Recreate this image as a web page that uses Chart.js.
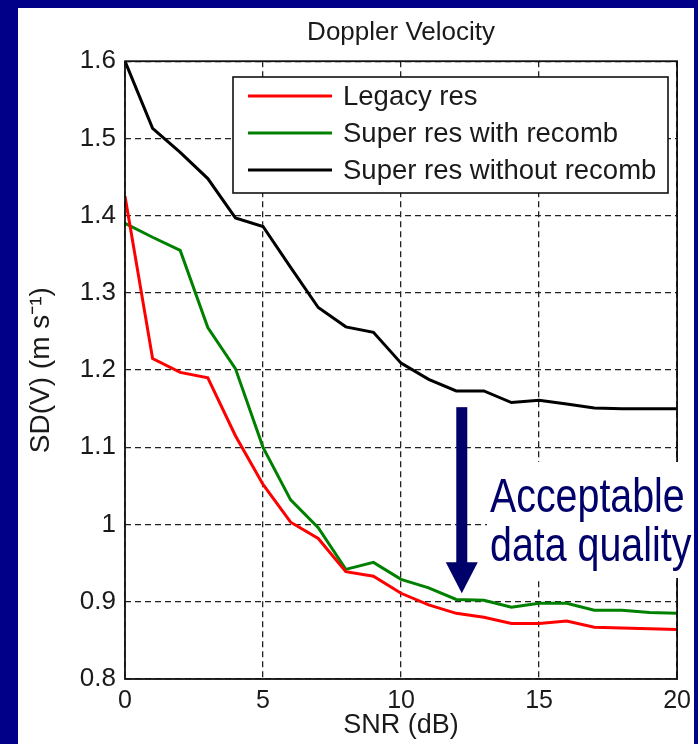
<!DOCTYPE html>
<html><head><meta charset="utf-8">
<script src="https://cdn.jsdelivr.net/npm/chart.js@4.4.0/dist/chart.umd.min.js"></script>
<style>html,body{margin:0;padding:0;background:#000088;overflow:hidden}#wrap{width:698px;height:744px;position:relative}</style>
</head><body><div id="wrap"><canvas id="c" width="698" height="744"></canvas></div>
<script>
// ---- data ----
const snr = [0,1,2,3,4,5,6,7,8,9,10,11,12,13,14,15,16,17,18,19,20];
const legacyRes = [1.425,1.215,1.197,1.19,1.115,1.052,1.003,0.982,0.939,0.933,0.911,0.896,0.885,0.880,0.872,0.872,0.875,0.867,0.866,0.865,0.864];
const superWithRecomb = [1.39,1.372,1.355,1.255,1.202,1.1,1.032,0.996,0.942,0.951,0.929,0.918,0.903,0.902,0.893,0.898,0.898,0.889,0.889,0.886,0.885];
const superWithoutRecomb = [1.6,1.513,1.482,1.448,1.397,1.386,1.333,1.281,1.256,1.249,1.209,1.188,1.173,1.173,1.158,1.161,1.156,1.151,1.15,1.15,1.15];
const seriesNames = ['Legacy res','Super res with recomb','Super res without recomb'];
const titleText = 'Doppler Velocity';
const xTitle = 'SNR (dB)';
const yTitle = 'SD(V) (m s\u207B\u00B9)';
const annotLines = ['Acceptable','data quality'];
const arrowSnr = 12.2, arrowFrom = 1.152, arrowTo = 0.911;

const pts = arr => snr.map((s,i)=>({x:s,y:arr[i]}));
const FONT = "'Liberation Sans', Arial, sans-serif";
const NAVY = '#00006a';

const framePlugin = {
  id:'frame',
  beforeDraw(chart){
    const c = chart.ctx;
    c.save();
    c.fillStyle = '#000088';
    c.fillRect(0,0,chart.width,chart.height);
    c.fillStyle = '#ffffff';
    c.fillRect(18,8,676,736);
    c.restore();
  },
  afterDraw(chart){
    const c = chart.ctx, a = chart.chartArea;
    c.save();
    // axes box
    c.strokeStyle = '#111'; c.lineWidth = 1.8; c.setLineDash([]);
    c.strokeRect(a.left, a.top, a.right-a.left, a.bottom-a.top);
    // legend
    const lx=233, ly=77, lw=435, lh=116;
    c.fillStyle='#fff'; c.fillRect(lx,ly,lw,lh);
    c.strokeStyle='#111'; c.lineWidth=1.6; c.strokeRect(lx,ly,lw,lh);
    const rows=[96,133,170];
    chart.data.datasets.forEach((ds,i)=>{
      c.strokeStyle=ds.borderColor; c.lineWidth=3.2;
      c.beginPath(); c.moveTo(248,rows[i]); c.lineTo(332,rows[i]); c.stroke();
      c.fillStyle='#1a1a1a'; c.font='27.5px '+FONT; c.textBaseline='middle'; c.textAlign='left';
      c.fillText(ds.label,343,rows[i]+1);
    });
    // annotation text box
    c.fillStyle='#fff'; c.fillRect(487,462,203,116);
    c.fillStyle=NAVY; c.textBaseline='alphabetic'; c.textAlign='left';
    c.font='48px '+FONT;
    c.save(); c.translate(490,512); c.scale(0.82,1); c.fillText(annotLines[0],0,0); c.restore();
    c.save(); c.translate(490,561); c.scale(0.82,1); c.fillText(annotLines[1],0,0); c.restore();
    // arrow
    const xs=chart.scales.x, ys=chart.scales.y;
    const ax=xs.getPixelForValue(arrowSnr), y0=ys.getPixelForValue(arrowFrom), y1=ys.getPixelForValue(arrowTo);
    c.fillStyle=NAVY;
    c.fillRect(ax-5.5,y0,11,(y1-31)-y0+1);
    c.beginPath(); c.moveTo(ax-16,y1-31); c.lineTo(ax+16,y1-31); c.lineTo(ax,y1); c.closePath(); c.fill();
    c.restore();
  }
};

const mk = (label,data,color)=>({label,data:pts(data),borderColor:color,backgroundColor:color,borderWidth:3,pointRadius:0,tension:0,fill:false});

new Chart(document.getElementById('c'),{
  type:'line',
  data:{datasets:[
    mk(seriesNames[0],legacyRes,'#ff0000'),
    mk(seriesNames[1],superWithRecomb,'#008000'),
    mk(seriesNames[2],superWithoutRecomb,'#000000')
  ]},
  options:{
    responsive:false, animation:false, devicePixelRatio:1,
    layout:{padding:{left:18,top:8,right:18,bottom:0}},
    plugins:{
      legend:{display:false}, tooltip:{enabled:false},
      title:{display:true,text:titleText,fullSize:false,color:'#1a1a1a',font:{family:FONT,size:26,weight:'normal'},padding:{top:9,bottom:13}}
    },
    scales:{
      x:{type:'linear',min:0,max:20,
        ticks:{stepSize:5,color:'#1a1a1a',font:{family:FONT,size:25},padding:7,maxRotation:0},
        grid:{color:'#222',lineWidth:1.3,drawTicks:false},
        border:{display:false,dash:[6,4]},
        title:{display:true,text:xTitle,color:'#1a1a1a',font:{family:FONT,size:27},padding:{top:0,bottom:2}},
        afterFit(s){s.height=65;}
      },
      y:{type:'linear',min:0.8,max:1.6,
        ticks:{stepSize:0.1,color:'#1a1a1a',font:{family:FONT,size:26},padding:9,callback:v=>String(+v.toFixed(1))},
        grid:{color:'#222',lineWidth:1.3,drawTicks:false},
        border:{display:false,dash:[6,4]},
        title:{display:true,text:yTitle,color:'#1a1a1a',font:{family:FONT,size:28},padding:{top:6,bottom:0}},
        afterFit(s){s.width=107;}
      }
    }
  },
  plugins:[framePlugin]
});
</script></body></html>
